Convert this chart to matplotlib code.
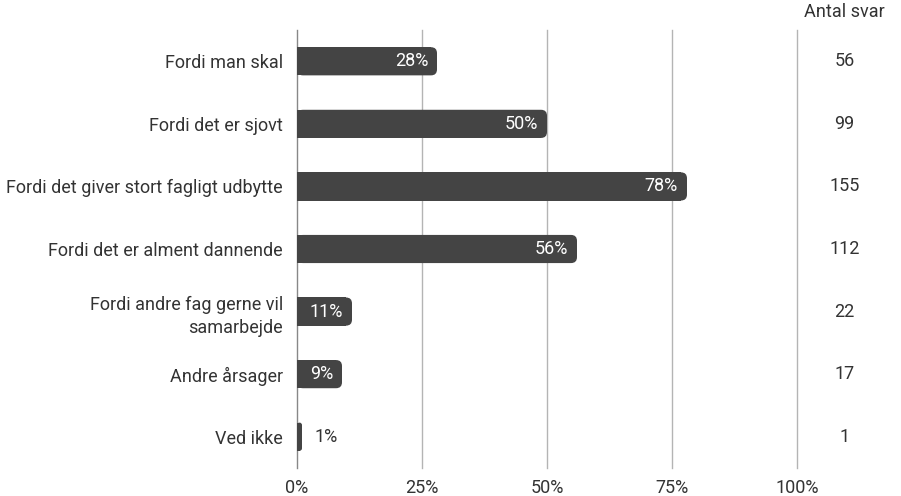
import numpy as np
import matplotlib
matplotlib.use('Agg')
import matplotlib.pyplot as plt
from matplotlib.patches import FancyBboxPatch

plt.rcParams['font.family'] = ['Roboto', 'DejaVu Sans']

categories = [
    "Fordi man skal",
    "Fordi det er sjovt",
    "Fordi det giver stort fagligt udbytte",
    "Fordi det er alment dannende",
    "Fordi andre fag gerne vil\nsamarbejde",
    "Andre årsager",
    "Ved ikke",
]
percent = [28, 50, 78, 56, 11, 9, 1]
counts = [56, 99, 155, 112, 22, 17, 1]
xticks = [0, 25, 50, 75, 100]

BAR = '#444444'
TXT = '#333333'
FS = 13

fig = plt.figure(figsize=(9.01, 4.96), dpi=100)
ax = fig.add_axes([297 / 901, 1 - 468 / 496, 500 / 901, (468 - 30) / 496])
ax.set_xlim(0, 100)
ax.set_ylim(len(categories) - 0.5, -0.5)

y = np.arange(len(categories))
height = 0.45

# gridlines
for t in xticks:
    ax.axvline(t, color='#888888' if t == 0 else '#b4b4b4', lw=1.0, zorder=1,
               clip_on=False)

# bars with rounded right end
r = 1.2
aspect = (62.6 / 5.0)  # px per y-unit / px per x-unit
bars = ax.barh(y, percent, height=height, color='none', edgecolor='none')
for b, p in zip(bars, percent):
    x0, y0 = b.get_x(), b.get_y()
    w, h = b.get_width(), b.get_height()
    rr = min(r, w / 2)
    ax.add_patch(FancyBboxPatch((x0, y0), w, h,
                                boxstyle=f"round,pad=0,rounding_size={rr}",
                                mutation_aspect=1 / aspect,
                                fc=BAR, ec='none', zorder=2))
    ax.add_patch(plt.Rectangle((x0, y0), max(w - rr, 0), h, fc=BAR, ec='none', zorder=2))

for yi, p in zip(y, percent):
    if p >= 5:
        ax.text(p - 1.8, yi, f"{p}%", ha='right', va='center', color='white',
                fontsize=FS, zorder=3)
    else:
        ax.text(p + 2.4, yi, f"{p}%", ha='left', va='center', color=TXT,
                fontsize=FS, zorder=3)

ax.set_yticks(y)
ax.set_yticklabels(categories, fontsize=FS, color=TXT, linespacing=1.35)
ax.set_xticks(xticks)
ax.set_xticklabels([f"{t}%" for t in xticks], fontsize=FS, color=TXT)
ax.tick_params(axis='both', length=0)
ax.tick_params(axis='y', pad=10)
ax.tick_params(axis='x', pad=8)
for s in ax.spines.values():
    s.set_visible(False)

# count column
for yi, c in zip(y, counts):
    ax.text(109.5, yi, str(c), ha='center', va='center', color=TXT,
            fontsize=FS, clip_on=False)
ax.text(109.5, -0.78, "Antal svar", ha='center', va='center', color=TXT,
        fontsize=FS, clip_on=False)

fig.savefig('out.png', dpi=100)
